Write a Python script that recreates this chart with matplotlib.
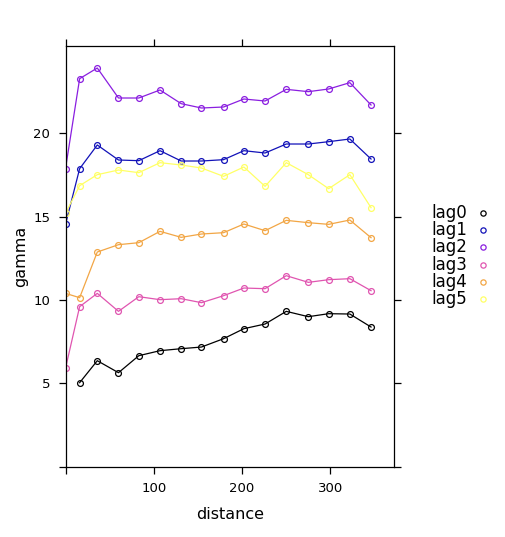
import numpy as np
import matplotlib
matplotlib.use("Agg")
import matplotlib.pyplot as plt

# sample variogram values
dist = [0, 16, 36, 60, 83, 107, 131, 154, 179, 202, 226, 250, 275, 298, 322, 346]

lag0 = [np.nan, 5.04, 6.36, 5.64, 6.66, 6.96, 7.08, 7.18, 7.68, 8.28, 8.56, 9.32, 9.00, 9.18, 9.16, 8.38]
lag1 = [14.54, 17.88, 19.30, 18.40, 18.36, 18.96, 18.34, 18.34, 18.42, 18.96, 18.82, 19.36, 19.36, 19.50, 19.66, 18.46]
lag2 = [17.88, 23.28, 23.92, 22.12, 22.12, 22.60, 21.78, 21.52, 21.58, 22.06, 21.94, 22.64, 22.50, 22.66, 23.04, 21.70]
lag3 = [5.90, 9.60, 10.40, 9.32, 10.20, 10.02, 10.08, 9.84, 10.26, 10.72, 10.68, 11.46, 11.06, 11.22, 11.28, 10.56]
lag4 = [10.40, 10.14, 12.88, 13.32, 13.44, 14.12, 13.76, 13.96, 14.04, 14.56, 14.16, 14.78, 14.64, 14.54, 14.80, 13.74]
lag5 = [15.20, 16.86, 17.52, 17.80, 17.64, 18.24, 18.10, 17.92, 17.42, 17.98, 16.82, 18.24, 17.52, 16.68, 17.52, 15.54]

names = ["lag0", "lag1", "lag2", "lag3", "lag4", "lag5"]
series = [lag0, lag1, lag2, lag3, lag4, lag5]
colors = ["#000000", "#1212B8", "#8A1EE0", "#E055B0", "#F2A645", "#FFFF66"]

xticks = [0, 100, 200, 300]
xticklabels = ["", "100", "200", "300"]
yticks = [0, 5, 10, 15, 20]
yticklabels = ["", "5", "10", "15", "20"]

W, H = 505, 537
fig = plt.figure(figsize=(W / 100, H / 100), dpi=100)
ax = fig.add_axes([65.5 / W, 1 - 466.7 / H, (394 - 65.5) / W, (466.7 - 46) / H])

for vals, c in zip(series, colors):
    ax.plot(dist, vals, color=c, lw=0.9, marker="o", ms=4.2, mfc="none", mec=c, mew=0.9)

ax.set_xlim(0, 372)
ax.set_ylim(0, 25.24)
ax.set_xticks(xticks)
ax.set_xticklabels(xticklabels)
ax.set_yticks(yticks)
ax.set_yticklabels(yticklabels)
ax.tick_params(direction="out", length=5, width=0.9, labelsize=9.5, pad=6,
               top=True, right=True, labeltop=False, labelright=False)
for sp in ax.spines.values():
    sp.set_linewidth(0.9)

ax.set_xlabel("distance", fontsize=11.5, labelpad=9)
ax.set_ylabel("gamma", fontsize=11.5, labelpad=4)

# legend drawn as plain text + markers, lattice key style
for i, (n, c) in enumerate(zip(names, colors)):
    yy = 1 - (213 + i * 17.2) / H
    fig.text(431 / W, yy, n, fontsize=12, ha="left", va="center")
    fig.lines.append(plt.Line2D([483 / W], [yy], transform=fig.transFigure, marker="o",
                                ms=3.8, mfc="none", mec=c, mew=0.9, ls="none"))

fig.savefig("out.png", dpi=100)
